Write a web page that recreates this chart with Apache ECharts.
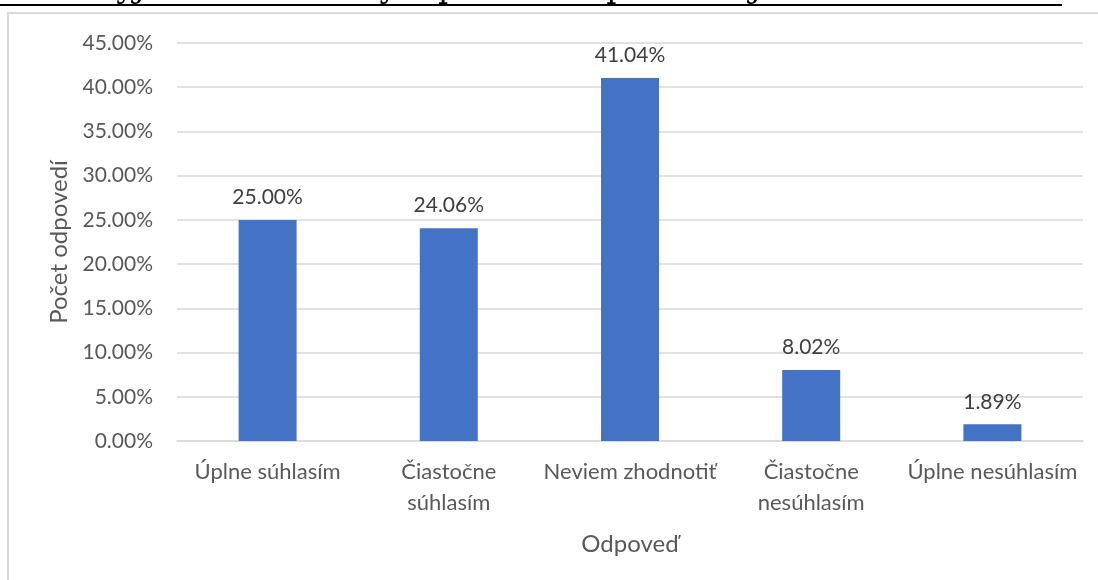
<!DOCTYPE html>
<html><head><meta charset="utf-8">
<script src="https://cdn.jsdelivr.net/npm/echarts@6/dist/echarts.min.js"></script>
<style>html,body{margin:0;padding:0;background:#fff}#c{width:1098px;height:580px}</style>
</head><body><div id="c"></div>
<script>
const categories = ['Úplne súhlasím', 'Čiastočne\nsúhlasím', 'Neviem zhodnotiť', 'Čiastočne\nnesúhlasím', 'Úplne nesúhlasím'];
const values = [25.00, 24.06, 41.04, 8.02, 1.89];
const yTicks = { min: 0, max: 45, interval: 5 };
const titleText = 'Mám možnosť vyjadriť sa k rôznym procesom prebiehajúcim na univerzite';
const xName = 'Odpoveď';
const yName = 'Počet odpovedí';

const FONT = 'Lato';
const chart = echarts.init(document.getElementById('c'), null, { renderer: 'canvas' });
chart.setOption({
  animation: false,
  backgroundColor: '#fff',
  graphic: [
    { type: 'rect', shape: { x: 8, y: 13, width: 1200, height: 700 }, style: { fill: 'none', stroke: '#d9d9d9', lineWidth: 2 }, z: -1 },
    { type: 'text', right: 36, top: -27, style: { text: titleText, font: '32px "DejaVu Serif"', fill: '#000' } },
    { type: 'line', shape: { x1: 0, y1: 5, x2: 1062, y2: 5 }, style: { stroke: '#000', lineWidth: 2 } }
  ],
  grid: { left: 177, right: 15, top: 43, bottom: 139 },
  xAxis: {
    type: 'category', data: categories,
    axisLine: { lineStyle: { color: '#d9d9d9', width: 1.5 } },
    axisTick: { show: false },
    axisLabel: { color: '#595959', fontFamily: FONT, fontSize: 22, lineHeight: 31, margin: 15, interval: 0 },
    name: xName, nameLocation: 'middle', nameGap: 91,
    nameTextStyle: { color: '#595959', fontFamily: FONT, fontSize: 24 }
  },
  yAxis: {
    type: 'value', min: yTicks.min, max: yTicks.max, interval: yTicks.interval,
    axisLine: { show: false }, axisTick: { show: false },
    splitLine: { lineStyle: { color: '#d9d9d9', width: 1.5 } },
    axisLabel: { color: '#595959', fontFamily: FONT, fontSize: 21, margin: 24, formatter: v => v.toFixed(2) + '%' },
    name: yName, nameLocation: 'middle', nameGap: 102, nameRotate: 90,
    nameTextStyle: { color: '#595959', fontFamily: FONT, fontSize: 24 }
  },
  series: [{
    type: 'bar', data: values, barWidth: 58,
    itemStyle: { color: '#4472C4' },
    label: { show: true, position: 'top', distance: 12, color: '#404040', fontFamily: FONT, fontSize: 21, formatter: p => p.value.toFixed(2) + '%' }
  }]
});
</script></body></html>
